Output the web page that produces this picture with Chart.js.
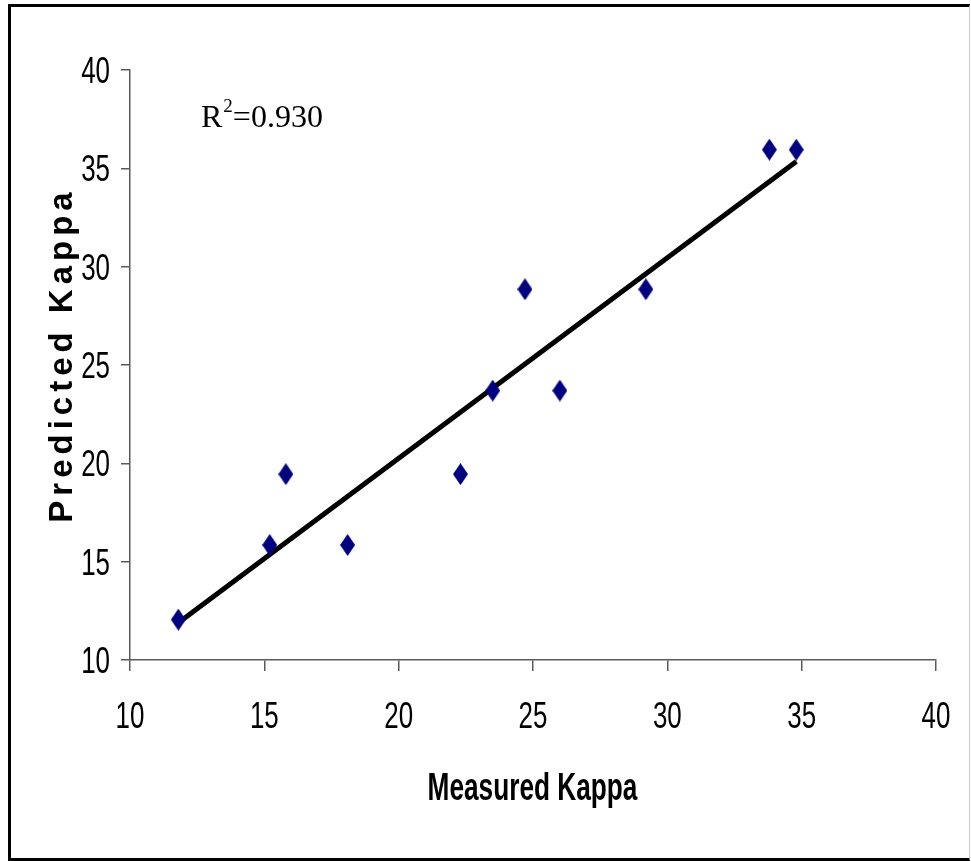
<!DOCTYPE html>
<html>
<head>
<meta charset="utf-8">
<title>Predicted vs Measured Kappa</title>
<script src="https://cdn.jsdelivr.net/npm/chart.js@4/dist/chart.umd.min.js"></script>
<style>
  html, body { margin: 0; padding: 0; background: #fff; }
  #wrap { position: relative; width: 971px; height: 861px; }
  #frame {
    position: absolute; left: 8px; top: 4px; width: 958px; height: 851px;
    border-top: 3px solid #000; border-left: 3px solid #000;
    border-bottom: 3px solid #000; border-right: 1px solid #c8c8c8;
    pointer-events: none;
  }
</style>
</head>
<body>
<div id="wrap">
  <canvas id="chart" width="971" height="861"></canvas>
  <div id="frame"></div>
</div>
<script>
// Measured kappa numbers and the model's predicted values
const measuredKappa  = [11.8, 15.2, 15.8, 18.1, 22.3, 23.5, 24.7, 26.0, 29.2, 33.8, 34.8];
const predictedKappa = [12.05, 15.85, 19.45, 15.85, 19.45, 23.7, 28.85, 23.7, 28.85, 35.95, 35.95];

// Linear trend line end points
const trendX = [11.8, 34.8];
const trendY = [11.9, 35.35];

// Axis ranges and tick step
const axisMin = 10;
const axisMax = 40;
const tickStep = 5;

const rSquaredText = '0.930';
const xTitle = 'Measured Kappa';
const yTitle = 'Predicted Kappa';

// Tall navy diamond marker
function diamondMarker(w, h, color) {
  const c = document.createElement('canvas');
  c.width = w; c.height = h;
  const g = c.getContext('2d');
  g.fillStyle = color;
  g.beginPath();
  g.moveTo(w / 2, 0);
  g.lineTo(w, h / 2);
  g.lineTo(w / 2, h);
  g.lineTo(0, h / 2);
  g.closePath();
  g.fill();
  return c;
}
const marker = diamondMarker(15, 22, '#000080');

const SANS = "'Liberation Sans', Arial, sans-serif";
const SERIF = "'Liberation Serif', 'Times New Roman', serif";

// draw text squeezed horizontally (condensed look)
function condensedText(ctx, text, x, y, sx, align) {
  ctx.save();
  ctx.translate(x, y);
  ctx.scale(sx, 1);
  ctx.textAlign = align;
  ctx.fillText(text, 0, 0);
  ctx.restore();
}

// Tick labels, axis titles and the R² note
const textPlugin = {
  id: 'textPlugin',
  afterDraw(chart) {
    const ctx = chart.ctx;
    const xs = chart.scales.x, ys = chart.scales.y;
    ctx.save();
    ctx.fillStyle = '#000';
    ctx.textBaseline = 'alphabetic';

    // tick labels from the scales' own ticks
    ctx.font = '36px ' + SANS;
    ys.ticks.forEach(t => {
      condensedText(ctx, String(t.value), 110, ys.getPixelForValue(t.value) + 13, 0.72, 'right');
    });
    xs.ticks.forEach(t => {
      condensedText(ctx, String(t.value), xs.getPixelForValue(t.value), 728, 0.72, 'center');
    });

    // horizontal axis title
    ctx.font = 'bold 38px ' + SANS;
    condensedText(ctx, xTitle, (xs.left + xs.right) / 2 - 0.5, 800, 0.69, 'center');

    // R² = value
    const x0 = 201, base = 127;
    ctx.textAlign = 'left';
    ctx.font = '32px ' + SERIF;
    ctx.fillText('R', x0, base);
    const rW = ctx.measureText('R').width;
    ctx.font = '19px ' + SERIF;
    ctx.fillText('2', x0 + rW + 1, base - 15);
    const sW = ctx.measureText('2').width;
    ctx.font = '32px ' + SERIF;
    ctx.fillText('=' + rSquaredText, x0 + rW + 1 + sW, base);

    // vertical axis title, letter-spaced
    const ls = 5;
    ctx.font = 'bold 33px ' + SANS;
    try { ctx.letterSpacing = ls + 'px'; } catch (e) {}
    const w = ctx.measureText(yTitle).width - ls;
    ctx.translate(72, 357.5);
    ctx.rotate(-Math.PI / 2);
    ctx.fillText(yTitle, -w / 2, 0);
    ctx.restore();
  }
};

new Chart(document.getElementById('chart'), {
  type: 'scatter',
  data: {
    datasets: [
      {
        label: 'Kappa',
        data: measuredKappa.map((x, i) => ({ x: x, y: predictedKappa[i] })),
        pointStyle: marker,
        pointRadius: 8,
        pointHoverRadius: 8,
        showLine: false
      },
      {
        label: 'Linear trend',
        data: trendX.map((x, i) => ({ x: x, y: trendY[i] })),
        showLine: true,
        borderColor: '#000',
        borderWidth: 5,
        pointRadius: 0,
        pointHoverRadius: 0,
        borderCapStyle: 'butt',
        fill: false
      }
    ]
  },
  options: {
    responsive: false,
    animation: false,
    events: [],
    layout: { padding: { top: 70, right: 35, left: 0, bottom: 0 } },
    plugins: { legend: { display: false }, tooltip: { enabled: false } },
    scales: {
      x: {
        type: 'linear',
        min: axisMin, max: axisMax,
        afterFit(scale) { scale.height = 201; },
        border: { display: true, color: '#5a5a5a', width: 1.5 },
        grid: { drawOnChartArea: false, drawTicks: true, tickLength: 11, color: '#5a5a5a', lineWidth: 1.5 },
        ticks: { stepSize: tickStep, display: false },
        title: { display: false }
      },
      y: {
        type: 'linear',
        min: axisMin, max: axisMax,
        afterFit(scale) { scale.width = 130; },
        border: { display: true, color: '#5a5a5a', width: 1.5 },
        grid: { drawOnChartArea: false, drawTicks: true, tickLength: 9, color: '#5a5a5a', lineWidth: 1.5 },
        ticks: { stepSize: tickStep, display: false },
        title: { display: false }
      }
    }
  },
  plugins: [textPlugin]
});
</script>
</body>
</html>
